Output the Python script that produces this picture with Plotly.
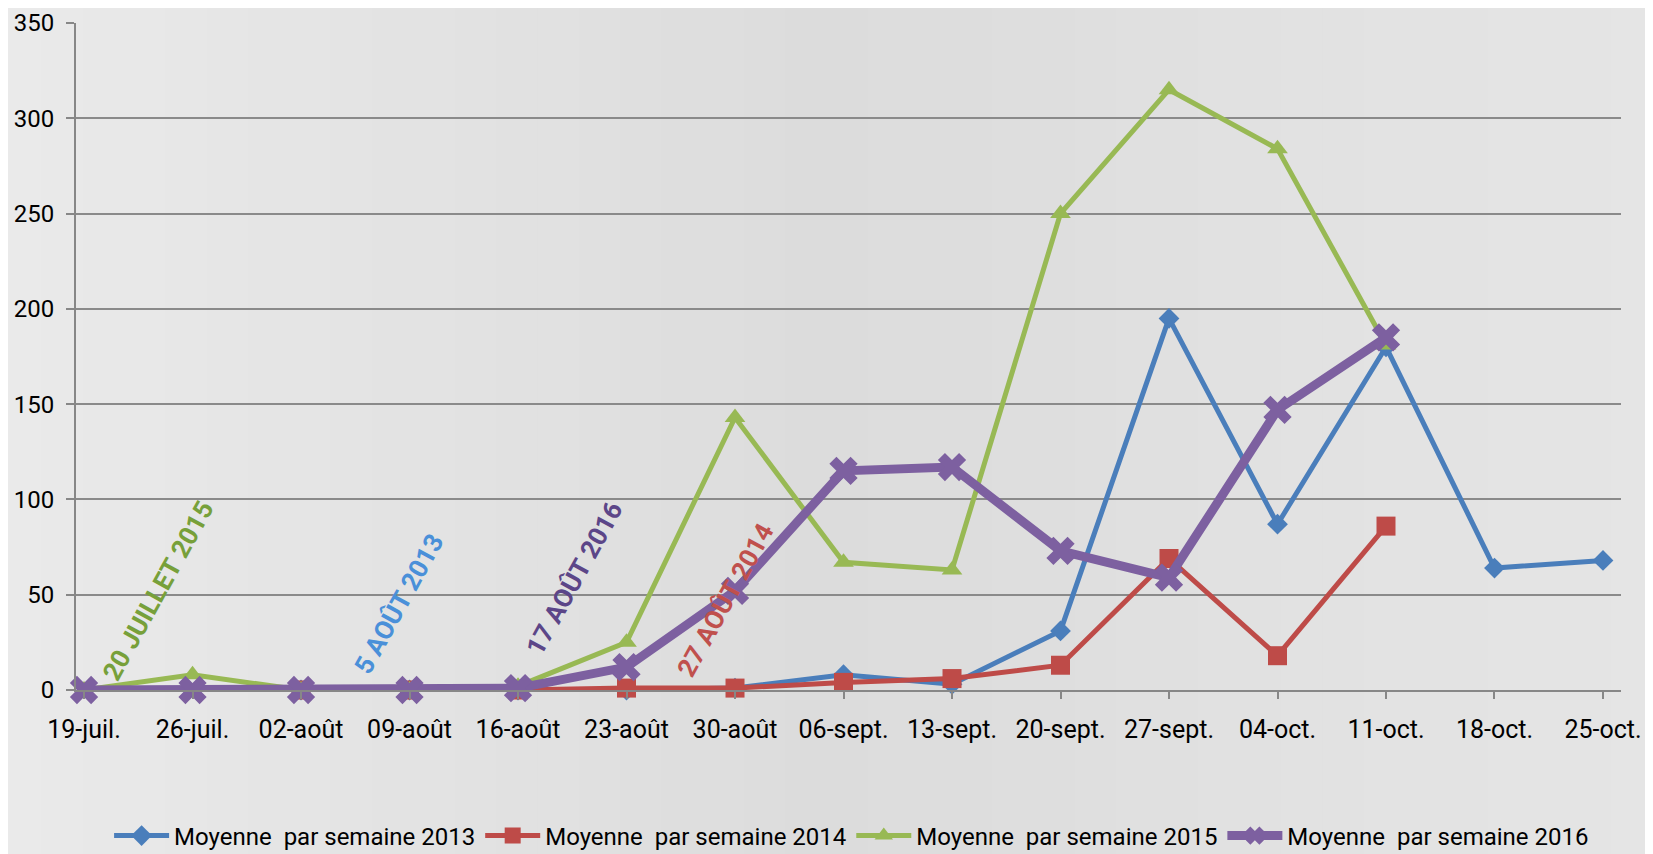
import plotly.graph_objects as go

weeks = ["19-juil.", "26-juil.", "02-août", "09-août", "16-août", "23-août", "30-août",
         "06-sept.", "13-sept.", "20-sept.", "27-sept.", "04-oct.", "11-oct.", "18-oct.", "25-oct."]

s2013 = [None, None, 0, 0, 0, 0, 1, 8, 3, 31, 195, 87, 180, 64, 68]
s2014 = [None, None, 0, 0, 0, 1, 1, 4, 6, 13, 69, 18, 86, None, None]
s2015 = [0, 8, 0, 0, 2, 25, 143, 67, 63, 250, 315, 284, 181, None, None]
s2016 = [0, 0, 0, 0, 1, 12, 52, 115, 117, 73, 59, 147, 185, None, None]

names = ["Moyenne  par semaine 2013", "Moyenne  par semaine 2014",
         "Moyenne  par semaine 2015", "Moyenne  par semaine 2016"]

FONT = "Roboto, 'Open Sans', sans-serif"
OFF = 8  # default page body margin
W, H = 1653 - OFF, 854 - OFF
L, R, T, B = 76 - OFF, 32, 23 - OFF, 164
PW, PH = W - L - R, H - T - B

fig = go.Figure()

# subtle background gradient (vertical bands)
stops = [(0.0, 234), (0.25, 227), (0.5, 220), (0.62, 222), (0.8, 226), (1.0, 229)]
N = 40
for i in range(N):
    f = (i + 0.5) / N
    for (a, ca), (b, cb) in zip(stops[:-1], stops[1:]):
        if a <= f <= b:
            c = int(round(ca + (cb - ca) * (f - a) / (b - a)))
            break
    x0 = (-L - OFF + (W + OFF) * i / N) / PW
    x1 = (-L - OFF + (W + OFF) * (i + 1) / N) / PW
    fig.add_shape(type="rect", xref="paper", yref="paper", x0=x0, x1=x1 + 0.002,
                  y0=-B / PH, y1=(H - B) / PH, fillcolor=f"rgb({c},{c},{c})",
                  line=dict(width=0), layer="below")

styles = [
    (s2013, "#4A7EBB", 5, "diamond", 16),
    (s2014, "#BE4B48", 5, "square", 19),
    (s2015, "#98B954", 5, "triangle-up", 18),
    (s2016, "#7D60A0", 9, "x", 25),
]
for (vals, col, lw, sym, ms), nm in zip(styles, names):
    fig.add_trace(go.Scatter(
        x=weeks, y=vals, mode="lines+markers",
        name=nm.replace("  ", "\u00a0 "),
        line=dict(color=col, width=lw),
        marker=dict(symbol=sym, size=ms, color=col, line=dict(width=0)),
        cliponaxis=False, connectgaps=False,
    ))

notes = [
    ("20 JUILLET 2015", 0.68, 52, "#77A03A"),
    ("5 AOÛT 2013", 2.90, 45.3, "#4A90D9"),
    ("17 AOÛT 2016", 4.52, 58.9, "#5C4688"),
    ("27 AOÛT 2014", 5.91, 47.4, "#C0504D"),
]
for txt, xi, yv, col in notes:
    fig.add_annotation(x=xi, y=yv, xref="x", yref="y", text="<b>" + txt + "</b>",
                       showarrow=False, textangle=-61,
                       font=dict(family=FONT, size=26, color=col))

fig.update_layout(
    width=W, height=H,
    margin=dict(l=L, r=R, t=T, b=B, autoexpand=False),
    paper_bgcolor="#E1E1E1", plot_bgcolor="rgba(0,0,0,0)",
    font=dict(family=FONT, size=24, color="#000000"),
    showlegend=True,
    legend=dict(orientation="h", x=0.502, xanchor="center", yref="paper",
                y=-(836 - 690) / PH, yanchor="middle", font=dict(size=24),
                itemwidth=55, bgcolor="rgba(0,0,0,0)", traceorder="normal"),
)
fig.update_xaxes(
    type="category", range=[-0.074, 14.166],
    showline=True, linecolor="#878787", linewidth=2,
    ticks="outside", ticklen=7, tickcolor="#878787", tickwidth=2,
    showgrid=False, ticklabelstandoff=9,
    tickfont=dict(size=25),
)
fig.update_yaxes(
    range=[0, 350], dtick=50, tick0=0,
    showline=True, linecolor="#878787", linewidth=2,
    ticks="outside", ticklen=8, tickcolor="#878787", tickwidth=2,
    showgrid=True, gridcolor="#8A8A8A", gridwidth=2,
    zeroline=False, ticklabelstandoff=7,
    tickfont=dict(size=24),
)

fig.write_html("out.html")
